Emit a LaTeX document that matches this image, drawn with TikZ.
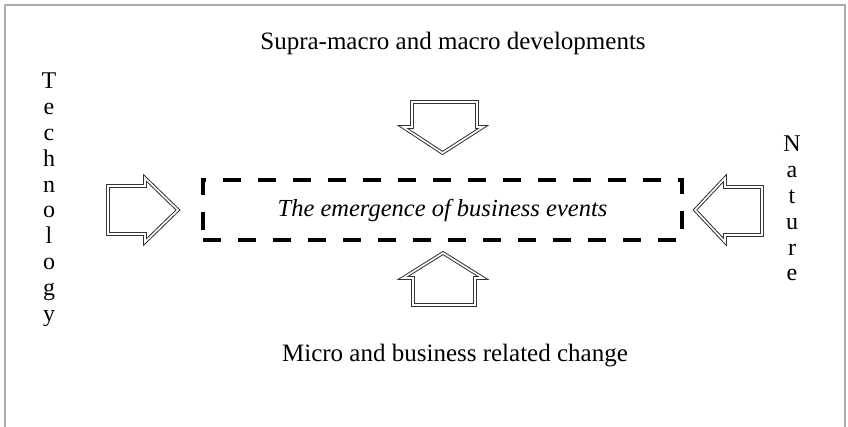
\documentclass[tikz,border=0pt]{standalone}
\usepackage{fontspec}
\setmainfont{Liberation Serif}
\begin{document}
\begin{tikzpicture}[x=1pt,y=-1pt,
  frame/.style={draw=gray!65,line width=1.6pt},
  blockarrow/.style={draw=gray!40!black,double=white,double distance=1.6pt,line width=1pt,line join=miter},
  lbl/.style={font=\fontsize{25}{28}\selectfont,inner sep=0pt},
  vlbl/.style={font=\fontsize{24}{25.8}\selectfont,inner sep=0pt,align=center},
  evbox/.style={draw=black,line width=3.5pt,dash pattern=on 18pt off 17pt,minimum width=479pt,minimum height=60pt,inner sep=0pt}]
\useasboundingbox (0,0) rectangle (848,427);
\fill[white] (0,0) rectangle (848,427);
% frame (open at the bottom)
\draw[frame] (5,427) -- (5,5) -- (845,5) -- (845,427);
% central box
\node[evbox] (events) at (442.5,210) {\fontsize{24.5}{28}\selectfont\itshape The emergence of business events};
% labels
\node[lbl] (supra) at (453,43) {Supra-macro and macro developments};
\node[lbl] (micro) at (455,356) {Micro and business related change};
\node[vlbl,anchor=north] (tech) at (49,73) {T\\e\\c\\h\\n\\o\\l\\o\\g\\y};
\node[vlbl,anchor=north] (nat) at (792,136) {N\\a\\t\\u\\r\\e};
% block arrows
\draw[blockarrow] (412,102) -- (477,102) -- (477,127) -- (483,127) -- (442.5,153) -- (403,127) -- (412,127) -- cycle;
\draw[blockarrow] (443,253) -- (483,278) -- (475,278) -- (475,305) -- (413,305) -- (413,278) -- (403,278) -- cycle;
\draw[blockarrow] (108,186) -- (145,186) -- (145,178) -- (178,210) -- (145,242) -- (145,234) -- (108,234) -- cycle;
\draw[blockarrow] (762,187) -- (725,187) -- (725,178) -- (695,210) -- (725,242) -- (725,235) -- (762,235) -- cycle;
\end{tikzpicture}
\end{document}
